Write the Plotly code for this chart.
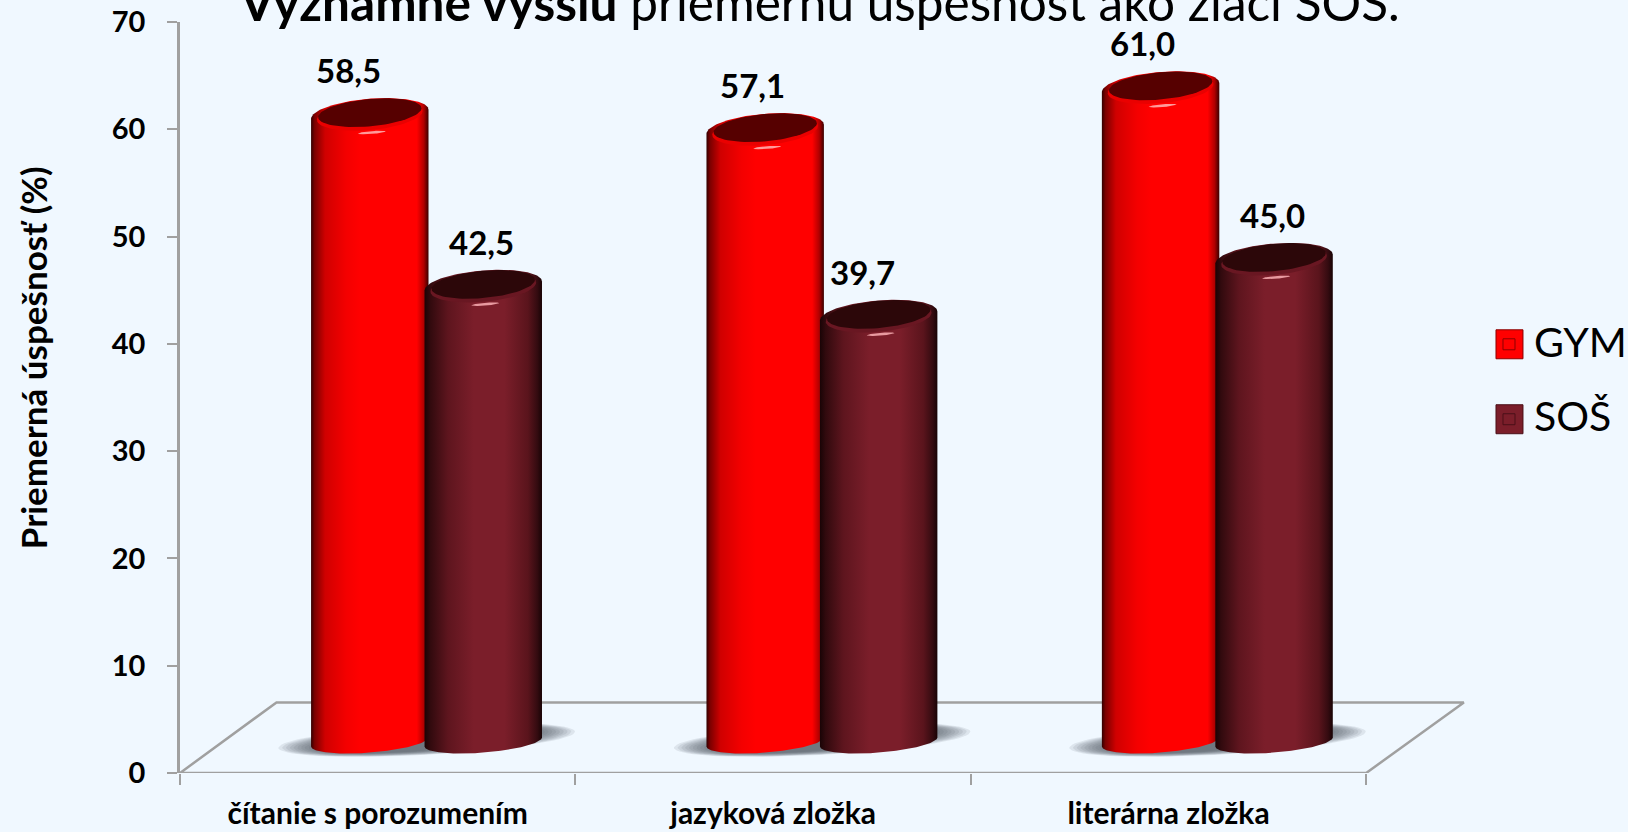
import numpy as np
import plotly.graph_objects as go

# ---- data ----
categories = ["čítanie s porozumením", "jazyková zložka", "literárna zložka"]
gym_values = [58.5, 57.1, 61.0]
sos_values = [42.5, 39.7, 45.0]
series_names = ["GYM", "SOŠ"]
y_ticks = [0, 10, 20, 30, 40, 50, 60, 70]

# ---- style ----
BG = "#f0f8ff"
AXIS = "#a0a0a0"
FONT = "Lato"
W, H = 1628, 832
PL, PR, PT, PB = 179.6, 1469.0, 22.0, 773.5
PW, PH = PR - PL, PB - PT
BAR_W = 0.297
OFFS = [-0.02, 0.267]
BASE = 2.9
RY = 1.45
RY_BOTTOM = 1.0
TILT = 0.42
RED_SCALE = [[0, "#330000"], [0.03, "#7a0000"], [0.12, "#d00000"], [0.3, "#f40000"], [0.42, "#ff0000"],
             [0.9, "#ff0000"], [0.96, "#b00000"], [1, "#3a0000"]]
DARK_SCALE = [[0, "#1a0406"], [0.05, "#320a0e"], [0.2, "#5e151e"], [0.42, "#7b1e2a"], [0.68, "#7b1e2a"],
              [0.88, "#5a141c"], [0.96, "#340b10"], [1, "#180305"]]
CAPS = ["#560000", "#2c0709"]
RIMS = ["#ea0000", "#691722"]
GLINTS = ["#ff9a9a", "#e89aa0"]
SCALES = [RED_SCALE, DARK_SCALE]
LABEL_DX = [[-0.055, -0.004], [-0.032, -0.04], [-0.045, -0.004]]

fig = go.Figure()


def ellipse(cx, cy, rx, ry, tilt, a=0.0, b=2 * np.pi, n=80):
    t = np.linspace(a, b, n)
    return cx + rx * np.cos(t), cy + ry * np.sin(t) + tilt * np.cos(t)


def blob(xs, ys, color):
    fig.add_trace(go.Scatter(x=xs, y=ys, mode="lines", fill="toself", fillcolor=color,
                             line=dict(width=0), hoverinfo="skip", showlegend=False))


# floor outline
fig.add_trace(go.Scatter(x=[-0.5, -0.256, 2.747, 2.5, -0.5], y=[0, 6.58, 6.58, 0, 0], mode="lines",
                         line=dict(color=AXIS, width=2.5), hoverinfo="skip", showlegend=False))

# soft shadows under each pair
for i in range(len(categories)):
    cx = i + 0.124
    for s in np.linspace(1.0, 0.72, 12):
        x, y = ellipse(cx, BASE + 0.2, 0.375 * s, 1.4 * s, 0.75)
        blob(x, y, "rgba(70,80,90,0.11)")

# cylinders
for i in range(len(categories)):
    for k, vals in enumerate([gym_values, sos_values]):
        v = vals[i]
        cx = i + OFFS[k]
        rx = BAR_W / 2
        xb, yb = ellipse(cx, BASE, rx, RY_BOTTOM, TILT, np.pi, 2 * np.pi)
        xt, yt = ellipse(cx, BASE + v, rx, RY, TILT, 0, np.pi)
        fig.add_trace(go.Scatter(
            x=np.r_[xb, xt, xb[0]], y=np.r_[yb, yt, yb[0]], mode="lines", fill="toself",
            fillgradient=dict(type="horizontal", colorscale=SCALES[k]),
            line=dict(width=0), hoverinfo="skip", showlegend=False, name=series_names[k]))
        # rim
        x, y = ellipse(cx, BASE + v - 0.1, rx * 0.9, RY * 0.95, TILT)
        blob(x, y, RIMS[k])
        # cap
        x, y = ellipse(cx, BASE + v + 0.15, rx * 0.88, RY * 0.88, TILT)
        blob(x, y, CAPS[k])
        # glint
        x, y = ellipse(cx + 0.005, BASE + v - RY - 0.25, 0.035, 0.13, 0.1)
        blob(x, y, GLINTS[k])

annotations = []
for i in range(len(categories)):
    for k, vals in enumerate([gym_values, sos_values]):
        annotations.append(dict(
            x=i + OFFS[k] + LABEL_DX[i][k], y=BASE + vals[i], xref="x", yref="y",
            text=f"<b>{vals[i]:.1f}</b>".replace(".", ","), showarrow=False, yshift=44,
            font=dict(family=FONT, size=33, color="#000000")))

annotations.append(dict(
    x=(819 - PL) / PW, y=(PB - 34) / PH, xref="paper", yref="paper", xanchor="center", yanchor="bottom",
    text="<b>Významne vyššiu</b> priemernú úspešnosť ako žiaci SOŠ.", showarrow=False,
    font=dict(family=FONT, size=49.5, color="#000000")))

annotations.append(dict(
    x=(32 - PL) / PW, y=(PB - 358) / PH, xref="paper", yref="paper", textangle=-90,
    xanchor="center", yanchor="middle",
    text="<b>Priemerná úspešnosť (%)</b>", showarrow=False,
    font=dict(family=FONT, size=35, color="#000000")))

# legend
shapes = []
LEG_COL = ["#ff0000", "#7b1e2a"]
LEG_INNER = ["#8a0000", "#4a1018"]
for k, (py0, py1, pyc) in enumerate([(330, 359, 342), (405, 434, 416)]):
    px0, px1 = 1496, 1523
    shapes.append(dict(type="rect", xref="paper", yref="paper", layer="above",
                       x0=(px0 - PL) / PW, x1=(px1 - PL) / PW,
                       y0=(PB - py1) / PH, y1=(PB - py0) / PH,
                       fillcolor=LEG_COL[k], line=dict(color=LEG_INNER[k], width=1)))
    shapes.append(dict(type="rect", xref="paper", yref="paper", layer="above",
                       x0=(px0 + 7 - PL) / PW, x1=(px1 - 8 - PL) / PW,
                       y0=(PB - py1 + 9) / PH, y1=(PB - py0 - 9) / PH,
                       fillcolor="rgba(0,0,0,0)", line=dict(color=LEG_INNER[k], width=1)))
    annotations.append(dict(x=(1532 - PL) / PW, y=(PB - pyc) / PH, xref="paper", yref="paper",
                            xanchor="left", yanchor="middle", showarrow=False, text=series_names[k],
                            font=dict(family=FONT, size=41, color="#000000")))

fig.update_layout(
    width=W, height=H, autosize=False, paper_bgcolor=BG, plot_bgcolor=BG,
    margin=dict(l=PL, r=W - PR, t=PT, b=H - PB, pad=0),
    showlegend=False, annotations=annotations, shapes=shapes,
    font=dict(family=FONT, color="#000000"),
    xaxis=dict(range=[-0.5, 2.76], automargin=False, tickmode="array", tickvals=[0, 1, 2],
               ticktext=[f"<b>{c}</b>" for c in categories], ticks="", showline=False,
               showgrid=False, zeroline=False, tickfont=dict(family=FONT, size=30), ticklabelstandoff=20,
               minor=dict(tickmode="array", tickvals=[-0.5, 0.5, 1.5, 2.5], ticks="outside",
                          ticklen=11, tickwidth=2, tickcolor=AXIS, showgrid=False)),
    yaxis=dict(range=[0, 70], automargin=False, tickmode="array", tickvals=y_ticks,
               ticktext=[f"<b>{t}</b>" for t in y_ticks], ticks="outside", ticklen=10, tickwidth=2,
               tickcolor=AXIS, showline=True, linecolor=AXIS, linewidth=2.5, showgrid=False,
               zeroline=False, tickfont=dict(family=FONT, size=29), ticklabelstandoff=16),
)

fig.write_html("out.html", config={"displayModeBar": False},
               post_script="document.body.style.margin='0';document.body.style.background='#f0f8ff';")
